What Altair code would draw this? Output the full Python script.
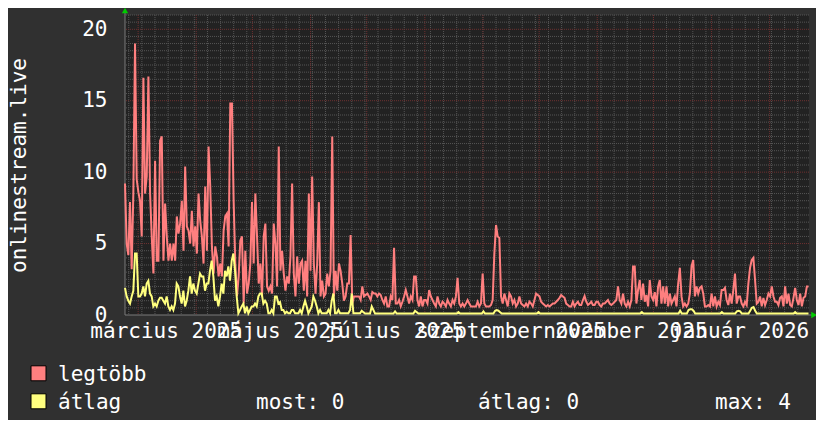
import altair as alt
import numpy as np
import pandas as pd

# ---------------- data ----------------
START = "2025-02-22"
PLOT_END = "2026-02-22"
SERIES_END = "2026-02-21T18:00"

legtobb_a = [
    9.2, 5.0, 4.2, 7.9, 3.2, 8.6, 19.0, 9.5, 8.6, 8.0, 5.5, 16.6, 8.5, 9.7, 16.7, 8.5, 5.5, 2.9, 10.8, 3.8,
    3.8, 12.2, 12.5,
    3.8, 7.8, 5.5, 3.8, 5.0, 3.8, 5.0, 3.8, 6.9, 5.7, 6.4, 8.0,
    4.5, 10.4, 6.2, 5.9, 5.0, 7.3, 4.8, 6.2, 4.3, 8.5, 6.6, 5.5, 3.6, 9.0, 4.5, 11.8, 9.0, 4.8, 2.9, 4.8,
    4.1, 2.7, 3.6, 2.7, 5.9, 6.9, 7.1, 4.8, 14.8, 14.8, 8.0, 3.6, 1.3, 2.7, 5.2, 5.5, 0.8, 4.5, 1.5, 2.2,
    3.6, 7.9, 3.6, 8.5, 5.5, 2.2, 3.6, 1.3, 5.5, 6.4, 2.0, 1.7, 2.0, 1.5, 6.4, 5.0, 2.0, 11.8, 3.1, 4.5,
    2.9, 1.7, 2.7, 2.2, 4.1, 9.2, 2.9, 1.3, 4.1, 2.2, 3.6, 3.8, 1.7, 3.8, 1.3, 8.5, 3.1, 9.7, 3.6, 1.5,
    3.6, 7.9, 1.3, 2.4, 1.3, 1.5, 2.9, 2.0, 3.1, 12.5, 1.3, 3.1, 1.7, 3.6, 3.1, 2.2, 1.0, 1.3, 2.2, 2.2,
    5.6, 0.8, 1.3, 1.3, 1.3, 1.3,
]
legtobb_b = [
    1.05, 2.0, 1.3, 1.4, 1.5, 1.3, 1.05, 1.6, 1.5, 1.5,
    1.3, 1.5, 1.4, 1.05, 0.8, 1.3, 0.6, 0.6, 1.3, 1.05,
    4.7, 0.8, 0.8, 1.05, 0.6, 0.93, 1.3, 1.75, 1.3, 0.8,
    1.3, 1.05, 2.7, 2.7, 1.05, 0.6, 1.3, 0.6, 1.05, 1.05,
    0.8, 1.75, 1.3, 1.05, 0.8, 0.6, 1.3, 0.8, 0.6, 0.93,
    0.8, 0.6, 1.05, 0.8, 0.6, 1.05, 0.8, 1.3, 2.6, 0.8,
    0.6, 0.8, 0.6, 0.8, 1.05, 0.8, 0.6, 0.6, 0.6, 0.6,
    0.93, 0.6, 0.8, 2.9, 0.8, 0.6, 0.6, 0.6, 0.7, 1.05,
    4.3, 6.3, 5.5, 5.4, 1.3, 0.8, 1.5, 1.05, 0.6, 1.5,
    1.3, 0.8, 1.05, 0.6, 0.8, 1.3, 0.8, 0.7, 0.6, 0.8,
    0.6, 0.93, 0.8, 0.6, 1.05, 1.5, 1.4, 1.3, 0.93, 0.8,
    0.7, 0.6, 0.7, 0.6, 0.7,
]
legtobb_c = [
    0.8, 0.8, 0.93, 1.05, 1.2, 1.4, 1.3, 1.2, 0.8, 0.7,
    0.6, 0.6, 0.93, 0.6, 0.8, 0.93, 0.7, 0.7, 1.05, 1.33,
    0.93, 0.7, 0.8, 0.93, 0.7, 0.7, 0.93, 0.93, 0.7, 0.6,
    0.8, 0.8, 0.93, 1.05, 0.8, 0.7, 0.8, 0.93, 1.05, 2.0,
    1.05, 0.8, 1.5, 0.8, 0.6, 0.93, 0.6, 1.05, 3.4, 3.4,
    0.8, 1.75, 2.45, 1.05, 2.2, 0.93, 1.4, 0.6, 2.45, 1.3,
    1.05, 1.6, 0.6, 2.0, 2.45, 0.8, 2.0, 0.8, 2.0, 0.6,
    1.5, 0.8, 1.05, 1.3, 0.6, 2.2, 3.3, 1.3, 0.6, 0.8,
    0.6, 0.8, 1.5, 3.4, 3.85, 1.3, 2.0, 1.5, 1.9, 2.0,
    1.5, 0.6, 0.6, 0.7, 0.6, 1.5, 0.6, 1.3, 0.6, 0.93,
    0.7, 1.75, 1.75, 1.9, 1.05, 0.7, 1.5, 0.8, 1.75, 2.9,
    0.8, 1.3, 1.3, 0.8, 0.6, 0.93, 0.7, 2.2, 3.3, 3.85,
    4.0, 2.45, 0.8, 0.93, 1.3, 0.6, 1.2, 0.7, 1.05, 1.5,
    1.3, 2.0, 1.3, 0.93, 0.93, 0.7, 1.2, 1.3, 0.6, 2.0,
    0.8, 1.5, 0.7, 0.6, 1.2, 1.9, 1.05, 0.7, 1.5, 0.6,
    1.2, 1.3, 2.0, 2.0,
]

atlag_a = [
    1.9, 1.3, 1.0, 0.8, 1.3, 1.7, 4.3, 4.3, 1.3, 1.3,
    1.5, 2.0, 1.3, 2.2, 2.4, 1.5, 1.3, 0.6, 0.8, 0.6,
    1.0, 1.2, 1.2, 1.0, 0.8, 1.3, 0.6, 0.35, 0.6, 0.35,
    0.8, 2.2, 2.0, 1.3, 0.8, 1.7, 0.6, 1.0, 1.7, 2.7,
    1.5, 2.2, 1.7, 1.5, 2.2, 2.9, 2.7, 2.7, 1.7, 2.2,
    2.2, 3.1, 3.8, 2.7, 1.0, 1.3, 0.6, 1.3, 2.2, 1.5,
    3.1, 2.7, 3.4, 2.4, 3.8, 4.3, 3.1, 1.3, 0.12, 0.35,
    0.6, 0.8, 0.12, 0.6, 0.12, 0.35, 0.6, 0.6, 0.8, 0.6,
    1.3, 1.5, 1.5, 0.8, 1.0, 0.8, 0.12, 0.12, 0.35, 0.12,
    1.3, 1.3, 0.8, 0.9, 0.35, 0.35, 0.12, 0.23, 0.12, 0.12,
    0.35, 0.35, 0.12, 0.12, 0.12, 0.35, 0.12, 0.6, 1.0, 0.6,
    0.12, 0.35, 0.6, 1.3, 1.0, 0.6, 0.12, 0.35, 0.12, 0.12,
    0.12, 0.12, 0.35, 0.12, 1.0, 1.5, 0.12, 0.12, 0.35, 0.12,
    0.12, 0.12, 0.12, 0.12, 0.12, 0.35, 1.5, 0.12, 0.12, 0.12,
    0.12, 0.12,
]
atlag_b = [
    0.3, 0.2, 0.1, 0.1, 0.1, 0.1, 0.6, 0.35, 0.1, 0.1,
    0.1, 0.1, 0.1, 0.1, 0.1, 0.1, 0.1, 0.1, 0.1, 0.1,
    0.25, 0.1, 0.1, 0.1, 0.1, 0.1, 0.1, 0.1, 0.1, 0.1,
    0.1, 0.1, 0.3, 0.2, 0.1, 0.1, 0.1, 0.1, 0.1, 0.1,
    0.1, 0.1, 0.1, 0.1, 0.1, 0.1, 0.1, 0.1, 0.1, 0.1,
    0.1, 0.1, 0.1, 0.1, 0.1, 0.1, 0.1, 0.1, 0.2, 0.1,
    0.1, 0.1, 0.1, 0.1, 0.1, 0.1, 0.1, 0.1, 0.1, 0.1,
    0.1, 0.1, 0.1, 0.25, 0.1, 0.1, 0.1, 0.1, 0.1, 0.1,
    0.3, 0.35, 0.3, 0.2, 0.1, 0.1, 0.1, 0.1, 0.1, 0.1,
    0.1, 0.1, 0.1, 0.1, 0.1, 0.1, 0.1, 0.1, 0.1, 0.1,
    0.1, 0.1, 0.1, 0.1, 0.1, 0.1, 0.2, 0.1, 0.1, 0.1,
    0.1, 0.1, 0.1, 0.1, 0.1,
]
atlag_c = [
    0.1, 0.1, 0.1, 0.1, 0.1, 0.1, 0.1, 0.1, 0.1, 0.1,
    0.1, 0.1, 0.1, 0.1, 0.1, 0.1, 0.1, 0.1, 0.1, 0.1,
    0.1, 0.1, 0.1, 0.1, 0.1, 0.1, 0.1, 0.1, 0.1, 0.1,
    0.1, 0.1, 0.1, 0.1, 0.1, 0.1, 0.1, 0.1, 0.1, 0.1,
    0.1, 0.1, 0.1, 0.1, 0.1, 0.1, 0.1, 0.1, 0.1, 0.1,
    0.1, 0.1, 0.1, 0.2, 0.1, 0.1, 0.1, 0.1, 0.1, 0.1,
    0.1, 0.1, 0.1, 0.1, 0.1, 0.1, 0.1, 0.1, 0.1, 0.1,
    0.1, 0.1, 0.1, 0.1, 0.1, 0.1, 0.3, 0.1, 0.1, 0.1,
    0.1, 0.35, 0.4, 0.4, 0.3, 0.1, 0.1, 0.1, 0.1, 0.1,
    0.1, 0.1, 0.1, 0.1, 0.1, 0.1, 0.1, 0.1, 0.1, 0.1,
    0.1, 0.2, 0.1, 0.1, 0.1, 0.1, 0.1, 0.1, 0.1, 0.1,
    0.25, 0.3, 0.25, 0.1, 0.1, 0.1, 0.1, 0.1, 0.3, 0.5,
    0.55, 0.3, 0.1, 0.1, 0.1, 0.1, 0.1, 0.1, 0.1, 0.1,
    0.1, 0.1, 0.1, 0.1, 0.1, 0.1, 0.1, 0.1, 0.1, 0.1,
    0.1, 0.1, 0.1, 0.1, 0.1, 0.2, 0.1, 0.1, 0.1, 0.1,
    0.1, 0.1, 0.1, 0.1,
]

month_labels = ["március 2025", "május 2025", "július 2025",
                "szeptember 2025", "november 2025", "január 2026"]
month_label_dates = ["2025-03-16", "2025-05-16", "2025-07-16",
                     "2025-09-16", "2025-11-16", "2026-01-16"]
y_ticks = [0, 5, 10, 15, 20]
y_max = 21

legend_names = ["legtöbb", "átlag"]
stat_texts = ["most: 0", "átlag: 0", "max: 4"]

# ---------------- helpers ----------------
T0 = pd.Timestamp(START)
SPAN = (pd.Timestamp(PLOT_END) - T0) / pd.Timedelta(days=1)


def to_days(dates):
    return list((pd.to_datetime(dates) - T0) / pd.Timedelta(days=1))


legtobb = legtobb_a + legtobb_b + legtobb_c
atlag = atlag_a + atlag_b + atlag_c

red_df = pd.DataFrame({"d": to_days(pd.date_range(START, SERIES_END, periods=len(legtobb))), "v": legtobb})
yel_df = pd.DataFrame({"d": to_days(pd.date_range(START, SERIES_END, periods=len(atlag))), "v": atlag})

weeks = pd.date_range("2025-02-24", PLOT_END, freq="7D")
months = pd.date_range("2025-03-01", PLOT_END, freq="MS")
week_df = pd.DataFrame({"d": to_days(weeks)})
month_df = pd.DataFrame({"d": to_days(months)})
minor_y = [v for v in np.arange(0.5, y_max + 0.01, 0.5) if v % 5 != 0]
major_y = [5, 10, 15, 20]
minor_y_df = pd.DataFrame({"v": minor_y})
major_y_df = pd.DataFrame({"v": major_y})
xlab_df = pd.DataFrame({"d": to_days(month_label_dates), "t": month_labels})

# ---------------- style ----------------
FONT = "DejaVu Sans Mono"
FS = 21
W, H = 684, 300
BG = "#303030"
PLOT_BG = "#222222"
MINOR = "#555555"
MAJOR = "#6e3030"
RED = "#ff7f7f"
YEL = "#ffff7f"
TXT = "#ffffff"
AXIS = "#7a7a7a"
ARROW = "#00cc00"

xs = alt.Scale(domain=[0, SPAN], nice=False, zero=False)
ys = alt.Scale(domain=[0, y_max], nice=False, zero=False)

yaxis = alt.Axis(
    values=y_ticks, labelFont=FONT, labelFontSize=FS, labelColor=TXT,
    ticks=False, tickSize=0, domain=False, grid=False, labelPadding=18,
    title="onlinestream.live", titleFont=FONT, titleFontSize=FS, titleColor=TXT,
    titleFontWeight="normal", titleAngle=270, titleX=-100, titleY=H / 2,
    titleAlign="center", titleBaseline="alphabetic",
)


def X(field="d"):
    return alt.X(f"{field}:Q", scale=xs, axis=None)


def Y(field="v"):
    return alt.Y(f"{field}:Q", scale=ys, axis=yaxis)


one = pd.DataFrame({"k": [0]})

minor_v = alt.Chart(week_df).mark_rule(color=MINOR, strokeDash=[1, 1], strokeWidth=1).encode(x=X())
minor_h = alt.Chart(minor_y_df).mark_rule(color=MINOR, strokeDash=[1, 1], strokeWidth=1).encode(y=Y())
major_v = alt.Chart(month_df).mark_rule(color=MAJOR, strokeDash=[1, 1], strokeWidth=1).encode(x=X())
major_h = alt.Chart(major_y_df).mark_rule(color=MAJOR, strokeDash=[1, 1], strokeWidth=1).encode(y=Y())

x_axis_line = alt.Chart(one).mark_rule(color=AXIS, strokeWidth=1).encode(
    y=alt.Y(datum=0, scale=ys, axis=yaxis), x=alt.value(0), x2=alt.value(W + 3))
y_axis_line = alt.Chart(one).mark_rule(color=AXIS, strokeWidth=1).encode(
    x=alt.X(datum=0, scale=xs, axis=None), y=alt.value(-2), y2=alt.value(H))

red_line = alt.Chart(red_df).mark_line(color=RED, strokeWidth=2).encode(x=X(), y=Y())
yel_line = alt.Chart(yel_df).mark_line(color=YEL, strokeWidth=2).encode(x=X(), y=Y())

arrow_up = alt.Chart(one).mark_point(shape="triangle-up", filled=True, color=ARROW, size=40, opacity=1).encode(
    x=alt.value(0), y=alt.value(-4.5))
arrow_right = alt.Chart(one).mark_point(shape="triangle-right", filled=True, color=ARROW, size=40, opacity=1).encode(
    x=alt.value(W + 5), y=alt.value(H))

xlabels = alt.Chart(xlab_df).mark_text(font=FONT, fontSize=FS, color=TXT, align="center",
                                       baseline="alphabetic").encode(
    x=X(), y=alt.value(323), text="t:N")

leg_layers = []
for i, (name, col) in enumerate(zip(legend_names, [RED, YEL])):
    yy = 358.3 + i * 28
    leg_layers.append(alt.Chart(one).mark_square(size=225, color=col, stroke="#000000", strokeWidth=1,
                                                 opacity=1, filled=True).encode(
        x=alt.value(-86.5), y=alt.value(yy)))
    leg_layers.append(alt.Chart(pd.DataFrame({"t": [name]})).mark_text(
        font=FONT, fontSize=FS, color=TXT, align="left", baseline="alphabetic").encode(
        x=alt.value(-67), y=alt.value(yy + 7.5), text="t:N"))

for txt, xx in zip(stat_texts, [131, 353, 590]):
    leg_layers.append(alt.Chart(pd.DataFrame({"t": [txt]})).mark_text(
        font=FONT, fontSize=FS, color=TXT, align="left", baseline="alphabetic").encode(
        x=alt.value(xx), y=alt.value(358.3 + 28 + 7.5), text="t:N"))

chart = alt.layer(
    minor_v, minor_h, major_v, major_h, x_axis_line, y_axis_line,
    red_line, yel_line, arrow_up, arrow_right, xlabels, *leg_layers
).properties(
    width=W, height=H, background=BG,
    autosize=alt.AutoSizeParams(type="none"),
    padding={"left": 117, "top": 7, "right": 7, "bottom": 105},
).configure_view(fill=PLOT_BG, stroke=None)

chart.save("out.html", embed_options={"renderer": "svg", "actions": False})
